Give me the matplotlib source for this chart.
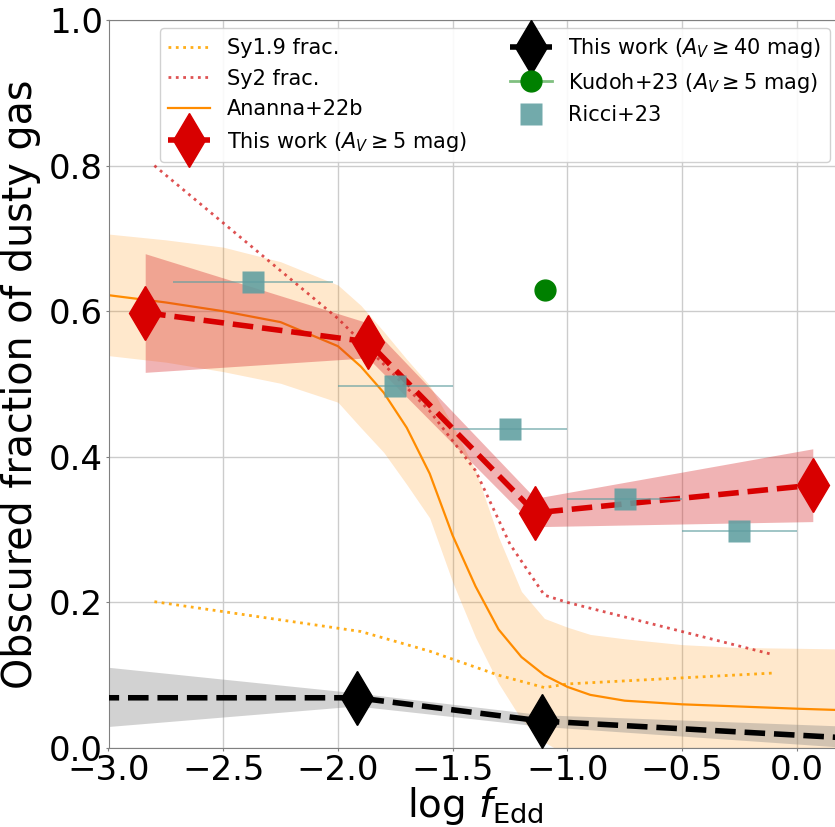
import numpy as np
import matplotlib
matplotlib.use("Agg")
import matplotlib.pyplot as plt

# ---------------- data ----------------
# This work (A_V >= 5 mag)
tw5_x = [-2.84, -1.87, -1.14, 0.07]
tw5_y = [0.598, 0.558, 0.323, 0.361]
tw5_lo = [0.516, 0.536, 0.304, 0.311]
tw5_hi = [0.679, 0.584, 0.343, 0.411]

# This work (A_V >= 40 mag)
tw40_x = [-3.3, -1.917, -1.11, 0.5]
tw40_y = [0.069, 0.069, 0.037, 0.009]
tw40_lo = [0.021, 0.057, 0.029, -0.006]
tw40_hi = [0.120, 0.075, 0.045, 0.026]

# Ananna+22b
an_x = [-3.0, -2.75, -2.5, -2.25, -2.0, -1.9, -1.8, -1.7, -1.6, -1.5, -1.4,
        -1.3, -1.2, -1.1, -1.0, -0.9, -0.75, -0.5, -0.25, 0.0, 0.2]
an_y = [0.622, 0.612, 0.600, 0.585, 0.552, 0.524, 0.488, 0.440, 0.377, 0.292,
        0.222, 0.163, 0.125, 0.100, 0.084, 0.073, 0.065, 0.060, 0.057, 0.054, 0.052]
an_hi = [0.706, 0.698, 0.688, 0.668, 0.636, 0.608, 0.572, 0.534, 0.498, 0.444,
         0.381, 0.290, 0.215, 0.178, 0.166, 0.156, 0.150, 0.142, 0.138, 0.137, 0.136]
an_lo = [0.539, 0.530, 0.517, 0.501, 0.475, 0.440, 0.406, 0.362, 0.316, 0.228,
         0.152, 0.089, 0.039, 0.008, -0.01, -0.02, -0.02, -0.02, -0.02, -0.02, -0.02]

# Sy2 fraction
sy2_x = [-2.8, -2.0, -1.8, -1.6, -1.4, -1.25, -1.1, -1.0, -0.6, -0.1]
sy2_y = [0.800, 0.590, 0.527, 0.463, 0.381, 0.280, 0.210, 0.200, 0.168, 0.128]

# Sy1.9 fraction
sy19_x = [-2.8, -1.9, -1.6, -1.3, -1.1, -1.0, -0.1]
sy19_y = [0.201, 0.160, 0.133, 0.100, 0.083, 0.088, 0.103]

# Kudoh+23
ku_x = [-1.097]
ku_y = [0.629]

# Ricci+23
ri_x = [-2.37, -1.75, -1.25, -0.75, -0.25]
ri_y = [0.640, 0.497, 0.438, 0.342, 0.298]
ri_xlo = [0.35, 0.25, 0.25, 0.25, 0.25]
ri_xhi = [0.35, 0.25, 0.25, 0.25, 0.25]

xticks = [-3.0, -2.5, -2.0, -1.5, -1.0, -0.5, 0.0]
yticks = [0.0, 0.2, 0.4, 0.6, 0.8, 1.0]

# ---------------- plot ----------------
W, H = 835, 827
fig = plt.figure(figsize=(W / 100, H / 100), dpi=100)
left_px, right_px, top_px, bot_px = 108.5, 842.6, 20, 748
ax = fig.add_axes([left_px / W, 1 - bot_px / H, (right_px - left_px) / W, (bot_px - top_px) / H])

ax.grid(True, color='#cccccc', lw=1, zorder=0)
ax.set_axisbelow(True)
for s in ax.spines.values():
    s.set_color('gray')

ax.fill_between(an_x, an_lo, an_hi, color='darkorange', alpha=0.2, lw=0, zorder=1)
l_sy19, = ax.plot(sy19_x, sy19_y, ls=':', color='orange', lw=2, alpha=0.9, zorder=2, label='Sy1.9 frac.')
l_sy2, = ax.plot(sy2_x, sy2_y, ls=':', color='tab:red', lw=2, alpha=0.8, zorder=2, label='Sy2 frac.')
l_an, = ax.plot(an_x, an_y, color='darkorange', lw=1.6, zorder=2, label='Ananna+22b')

ax.fill_between(tw5_x, tw5_lo, tw5_hi, color='tab:red', alpha=0.35, lw=0, zorder=3)
ax.fill_between(tw40_x, tw40_lo, tw40_hi, color='gray', alpha=0.35, lw=0, zorder=3)

l_ku, = ax.plot(ku_x, ku_y, ls='-', lw=2, color='#80c080', marker='o', ms=15,
                mfc='green', mec='green', zorder=5,
                label=r'Kudoh+23 ($A_V \geq 5$ mag)')

l_tw5, = ax.plot(tw5_x, tw5_y, ls='--', lw=4, color='#d80000', marker='d', ms=28,
                 zorder=6, label=r'This work ($A_V \geq 5$ mag)')
l_tw40, = ax.plot(tw40_x, tw40_y, ls='--', lw=4, color='black', marker='d', ms=28,
                  zorder=6, label=r'This work ($A_V \geq 40$ mag)')

ax.errorbar(ri_x, ri_y, xerr=[ri_xlo, ri_xhi], fmt='none', ecolor='cadetblue',
            elinewidth=1.2, alpha=0.7, zorder=7)
l_ri, = ax.plot(ri_x, ri_y, ls='none', marker='s', ms=16, color='cadetblue',
                alpha=0.88, mec='none', zorder=7, label='Ricci+23')

ax.set_xlim(-3.0, 0.2)
ax.set_ylim(0.0, 1.0)
ax.set_xticks(xticks)
ax.set_yticks(yticks)
ax.tick_params(labelsize=24.5, length=2, pad=2, color='gray')
ax.set_xlabel(r'log $f_{\rm Edd}$', fontsize=28, labelpad=-1)
ax.set_ylabel('Obscured fraction of dusty gas', fontsize=28.5, labelpad=6)

handles = [l_sy19, l_sy2, l_an, l_tw5, l_tw40, l_ku, l_ri]
labels = [h.get_label() for h in handles]
leg = ax.legend(handles, labels, ncol=2, fontsize=15, loc='upper left',
                bbox_to_anchor=(160 / W, 1 - 28 / H), bbox_transform=fig.transFigure,
                borderaxespad=0, framealpha=0.9, columnspacing=2.1)
leg.set_zorder(10)

fig.savefig('out.png', dpi=100)
